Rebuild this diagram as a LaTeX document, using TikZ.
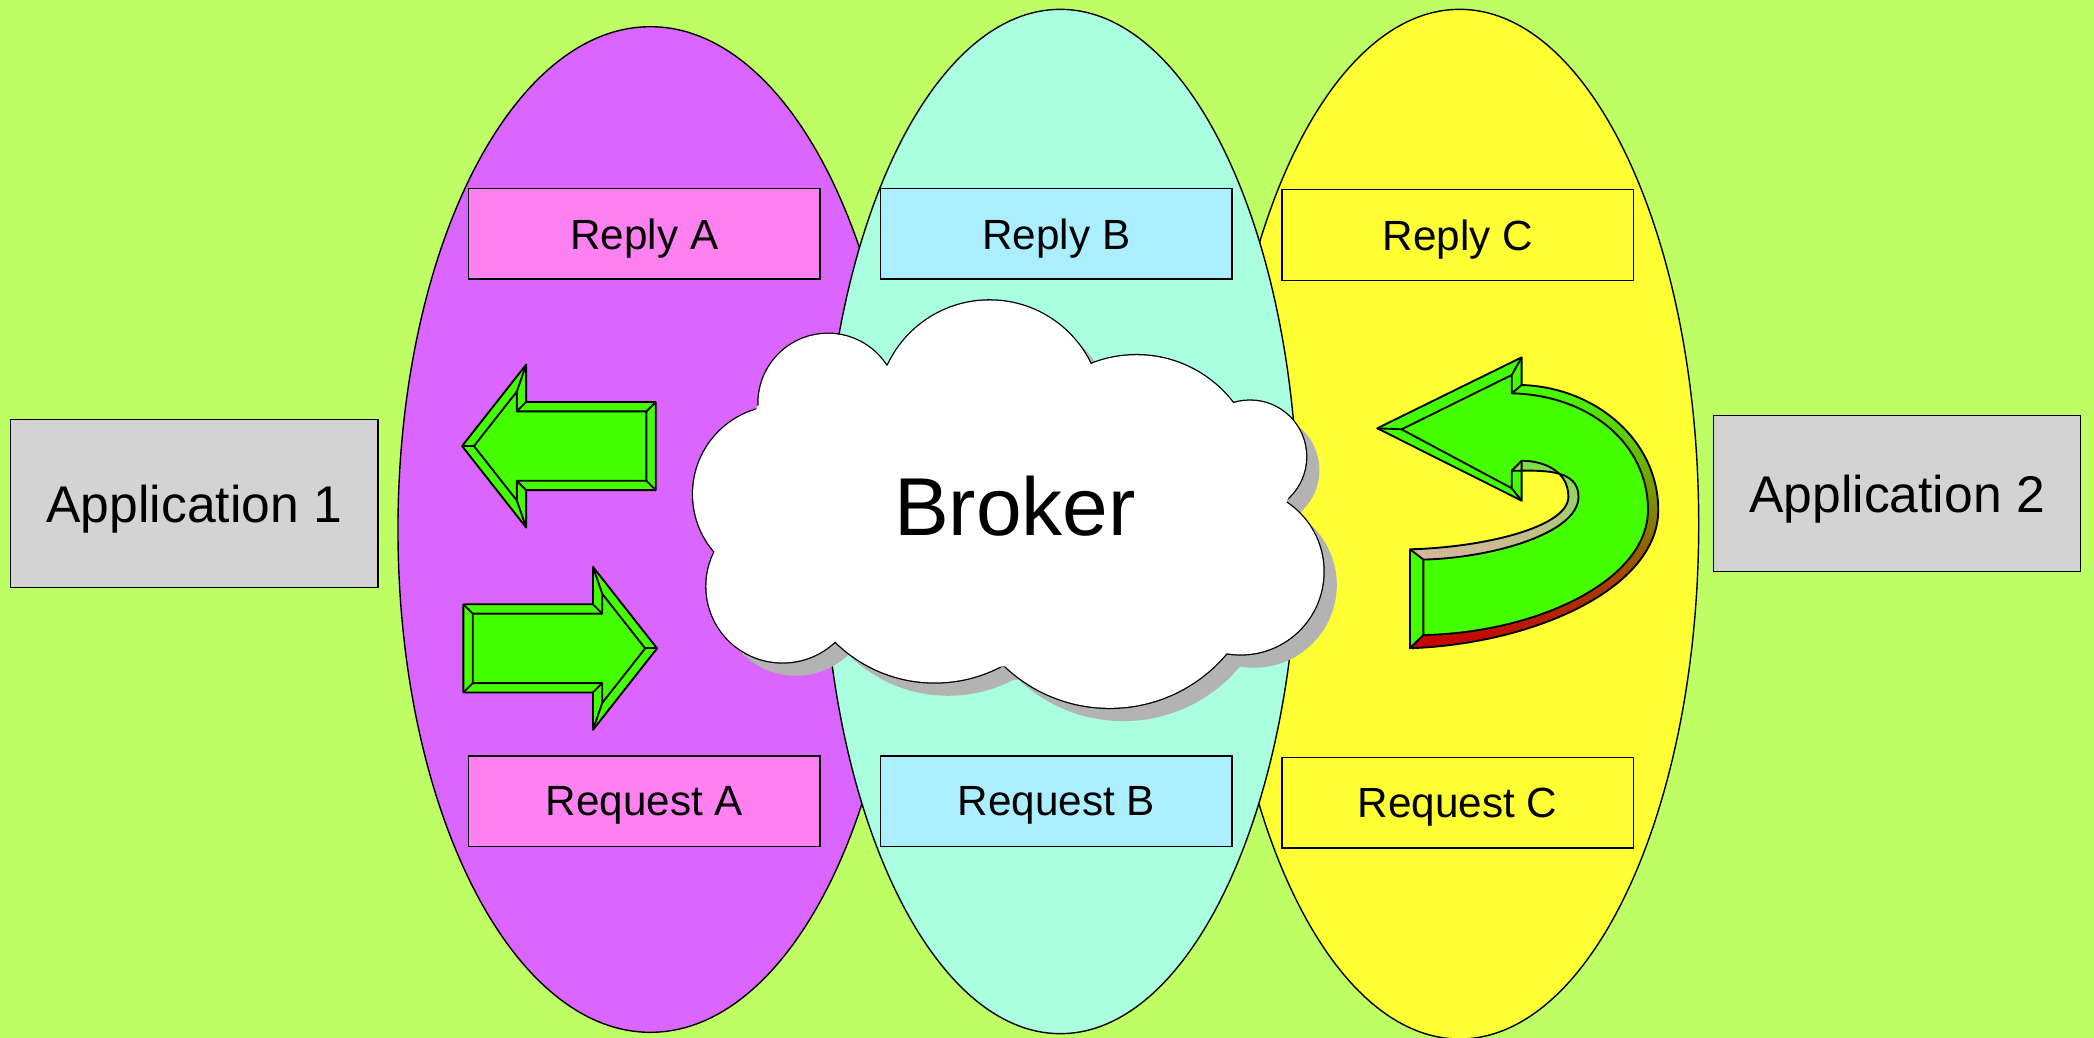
\documentclass[tikz,border=0pt]{standalone}
\usepackage{fontspec}
\setmainfont{Liberation Sans}

\definecolor{bggreen}{RGB}{191,255,102}
\definecolor{zonemagenta}{RGB}{218,102,255}
\definecolor{zonemint}{RGB}{170,255,224}
\definecolor{zoneyellow}{RGB}{255,255,51}
\definecolor{boxpink}{RGB}{255,128,240}
\definecolor{boxblue}{RGB}{170,238,255}
\definecolor{appgray}{RGB}{211,211,211}
\definecolor{arrowgreen}{RGB}{68,255,0}
\definecolor{shadowgray}{RGB}{179,179,179}
\definecolor{stripred}{RGB}{200,0,0}
\definecolor{striplight}{RGB}{120,225,70}
\definecolor{striptan}{RGB}{215,180,160}

\tikzset{
zone/.style={draw=black, line width=0.6pt},
msgbox/.style={draw=black, line width=0.6pt, inner sep=0pt,
  minimum width=5.26cm, minimum height=1.36cm, text depth=0pt,
  font=\fontsize{18}{21}\selectfont},
appbox/.style={draw=black, line width=0.6pt, inner sep=0pt,
  fill=appgray, minimum width=5.5cm, text depth=0pt,
  font=\fontsize{22}{26}\selectfont},
bevel/.style={draw=black, line width=0.8pt, line join=round}
}

\def\cloudbumps{585/370/66, 620/302/52, 741/309/84, 851/357/91,
936/342/42, 929/428/62, 831/416/114, 700/405/106, 586/439/57}

\begin{document}
\begin{tikzpicture}[x=0.02cm, y=-0.02cm]

\useasboundingbox (0,0) rectangle (1568,777);
\clip (0,0) rectangle (1568,777);
\fill[bggreen] (0,0) rectangle (1568,777);

% Zones
\draw[zone, fill=zonemagenta] (487,396.5) ellipse [x radius=189, y radius=376.5];
\draw[zone, fill=zoneyellow] (1093,392.5) ellipse [x radius=179, y radius=385.5];
\draw[zone, fill=zonemint] (794,390.5) ellipse [x radius=178, y radius=383.5];

% Queues
\node[msgbox, fill=boxpink] (replyA) at (482.5,175) {Reply A};
\node[msgbox, fill=boxblue] (replyB) at (791,175) {Reply B};
\node[msgbox, fill=zoneyellow] (replyC) at (1091.5,176) {Reply C};
\node[msgbox, fill=boxpink] (requestA) at (482.5,600) {Request A};
\node[msgbox, fill=boxblue] (requestB) at (791,600) {Request B};
\node[msgbox, fill=zoneyellow] (requestC) at (1091.5,601) {Request C};

% Applications
\node[appbox, minimum height=2.52cm] (app1) at (145.5,377) {Application 1};
\node[appbox, minimum height=2.34cm] (app2) at (1420.5,369.5) {Application 2};

% Broker cloud
\begin{scope}[shift={(10,10)}]
\foreach \cx/\cy/\r in \cloudbumps
{
\fill[shadowgray] (\cx,\cy) circle (\r);
}
\fill[shadowgray] (567,304) -- (667,273) -- (816,273) -- (926,304.5)
  -- (965,372) -- (916.7,489.3) -- (747.9,499.2) -- (627.7,480.5)
  -- (537.8,411.9) -- cycle;
\end{scope}

\foreach \cx/\cy/\r in \cloudbumps
{
\draw[line width=1.1pt] (\cx,\cy) circle (\r);
}
\foreach \cx/\cy/\r in \cloudbumps
{
\fill[white] (\cx,\cy) circle (\r);
}
\fill[white] (567,304) -- (667,273) -- (816,273) -- (926,304.5)
  -- (965,372) -- (916.7,489.3) -- (747.9,499.2) -- (627.7,480.5)
  -- (537.8,411.9) -- cycle;

\node[font=\fontsize{35}{40}\selectfont] (broker) at (760,379) {Broker};

% Straight arrows
\foreach \ax/\ay/\flip in {491/334/-1, 347/485.5/1}
{
\begin{scope}[shift={(\ax,\ay)}, xscale=\flip]
\filldraw[bevel, fill=arrowgreen] (0,33) -- (97,33) -- (97,61) -- (145,0)
  -- (97,-61) -- (97,-33) -- (0,-33) -- cycle;
\draw[bevel] (7,26) -- (104,26) -- (104,40.8) -- (136.1,0)
  -- (104,-40.8) -- (104,-26) -- (7,-26) -- cycle;
\foreach \ox/\oy/\ix/\iy in {0/33/7/26, 97/33/104/26, 97/61/104/40.8,
  145/0/136.1/0, 97/-61/104/-40.8, 97/-33/104/-26, 0/-33/7/-26}
{
\draw[bevel] (\ox,\oy) -- (\ix,\iy);
}
\end{scope}
}

% U-turn arrow
\coordinate (tip) at (1031.3,320.7);
\coordinate (headtop) at (1139.4,267.6);
\coordinate (headbot) at (1139.4,374.9);
\coordinate (outtop) at (1139.4,288.3);
\coordinate (outend) at (1055.8,485.4);
\coordinate (inend) at (1055.8,411.3);
\coordinate (intop) at (1139.4,345);
\coordinate (tip') at (1049.5,321.5);
\coordinate (headtop') at (1132,280.8);
\coordinate (headbot') at (1132,365.6);
\coordinate (outtop') at (1132,294.5);
\coordinate (outend') at (1065.8,475.5);
\coordinate (inend') at (1065.8,419);
\coordinate (intop') at (1132,352.5);

\fill[arrowgreen] (tip) -- (headtop) -- (outtop)
  .. controls (1195,290) and (1241.7,330) .. (1241.7,381.9)
  .. controls (1241.7,440) and (1150,482) .. (outend) -- (inend)
  .. controls (1110,410) and (1174.4,395) .. (1174.4,371.9)
  .. controls (1174.4,352) and (1155,345) .. (intop) -- (headbot) -- cycle;

\shade[top color=arrowgreen, bottom color=stripred] (outtop)
  .. controls (1195,290) and (1241.7,330) .. (1241.7,381.9)
  .. controls (1241.7,440) and (1150,482) .. (outend) -- (outend')
  .. controls (1150,474) and (1234,435) .. (1234,381.9)
  .. controls (1234,332) and (1190,296) .. (outtop') -- cycle;

\shade[top color=striplight, bottom color=striptan] (inend)
  .. controls (1110,410) and (1174.4,395) .. (1174.4,371.9)
  .. controls (1174.4,352) and (1155,345) .. (intop) -- (intop')
  .. controls (1152,352.5) and (1182,350) .. (1182,371.9)
  .. controls (1182,400) and (1115,418) .. (inend') -- cycle;

\draw[bevel] (tip) -- (headtop) -- (outtop)
  .. controls (1195,290) and (1241.7,330) .. (1241.7,381.9)
  .. controls (1241.7,440) and (1150,482) .. (outend) -- (inend)
  .. controls (1110,410) and (1174.4,395) .. (1174.4,371.9)
  .. controls (1174.4,352) and (1155,345) .. (intop) -- (headbot) -- cycle;

\draw[bevel] (tip') -- (headtop') -- (outtop')
  .. controls (1190,296) and (1234,332) .. (1234,381.9)
  .. controls (1234,435) and (1150,474) .. (outend') -- (inend')
  .. controls (1115,418) and (1182,400) .. (1182,371.9)
  .. controls (1182,350) and (1152,352.5) .. (intop') -- (headbot') -- cycle;

\foreach \p in {tip, headtop, headbot, outtop, outend, inend, intop}
{
\draw[bevel] (\p) -- (\p');
}

\end{tikzpicture}
\end{document}
